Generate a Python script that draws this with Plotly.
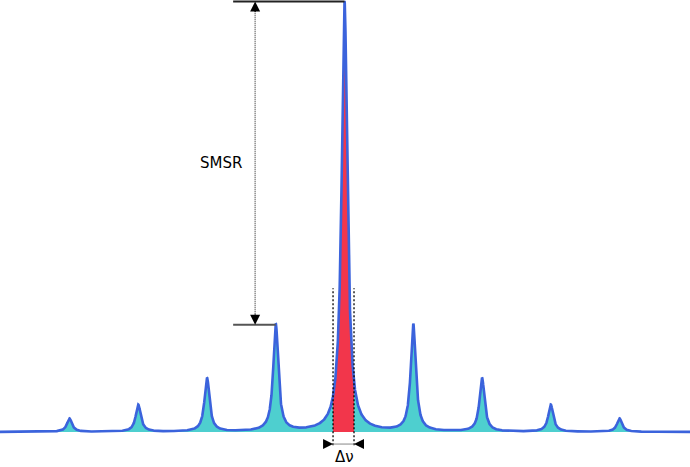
import numpy as np
import plotly.graph_objects as go

# ---- data (mode index units, relative power) ----
mode_index = [-4, -3, -2, -1, 0, 1, 2, 3, 4]
peak_power = [0.031, 0.063, 0.125, 0.249, 1.0, 0.249, 0.125, 0.063, 0.031]
peak_hwhm = [0.044, 0.044, 0.044, 0.044, 0.05, 0.044, 0.044, 0.044, 0.044]
dv_bounds = [-0.167, 0.138]          # linewidth (Δν) markers around main mode
smsr_arrow_x = -1.30                 # position of SMSR arrow
ref_line_start = -1.62               # left end of the reference level lines
dv_arrow_y = -0.028
dv_guide_top = 0.334
x_range = [-5.011, 5.025]
y_range = [-0.0813, 1.0035]

LINE = "#3b63dc"
CYAN = "#4ecfcf"
RED = "#f2364b"

x = np.linspace(x_range[0], x_range[1], 9001)
x = np.union1d(x, np.array(mode_index + dv_bounds, dtype=float))


def spectrum(xv):
    return sum(a / (1.0 + ((xv - m) / g) ** 2)
               for m, a, g in zip(mode_index, peak_power, peak_hwhm))


y = spectrum(x)
mask = (x >= dv_bounds[0]) & (x <= dv_bounds[1])

fig = go.Figure()
fig.add_trace(go.Scatter(x=x, y=y, mode="lines", line=dict(width=0, color=CYAN),
                         fill="tozeroy", fillcolor=CYAN, hoverinfo="skip"))
fig.add_trace(go.Scatter(x=x[mask], y=y[mask], mode="lines", line=dict(width=0, color=RED),
                         fill="tozeroy", fillcolor=RED, hoverinfo="skip"))
fig.add_trace(go.Scatter(x=x, y=y, mode="lines", line=dict(width=2.6, color=LINE),
                         hoverinfo="skip"))

main_h = peak_power[mode_index.index(0)]
side_h = peak_power[mode_index.index(-1)]

shapes = [
    dict(type="line", x0=ref_line_start, x1=0, y0=main_h, y1=main_h,
         line=dict(color="#222222", width=2)),
    dict(type="line", x0=ref_line_start, x1=-1, y0=side_h, y1=side_h,
         line=dict(color="#555555", width=2)),
    dict(type="line", x0=smsr_arrow_x, x1=smsr_arrow_x, y0=side_h + 0.02, y1=main_h - 0.02,
         line=dict(color="#666666", width=1.5, dash="1px,1px")),
    dict(type="line", x0=dv_bounds[0], x1=dv_bounds[0], y0=dv_arrow_y - 0.003, y1=dv_guide_top,
         line=dict(color="#000000", width=1.3, dash="2px,2px")),
    dict(type="line", x0=dv_bounds[1], x1=dv_bounds[1], y0=dv_arrow_y - 0.003, y1=dv_guide_top,
         line=dict(color="#000000", width=1.3, dash="2px,2px")),
    dict(type="line", x0=dv_bounds[0], x1=dv_bounds[1], y0=dv_arrow_y, y1=dv_arrow_y,
         line=dict(color="#888888", width=1)),
]

arrow_common = dict(text="", showarrow=True, arrowhead=2, arrowsize=2, arrowwidth=1,
                    arrowcolor="black", standoff=0, xref="x", yref="y")
annotations = [
    dict(x=smsr_arrow_x, y=main_h, ax=0, ay=12, **arrow_common),
    dict(x=smsr_arrow_x, y=side_h, ax=0, ay=-12, **arrow_common),
    dict(x=dv_bounds[0], y=dv_arrow_y, ax=-9, ay=0, **arrow_common),
    dict(x=dv_bounds[1], y=dv_arrow_y, ax=9, ay=0, **arrow_common),
    dict(x=-1.796, y=0.626, text="SMSR", showarrow=False, xref="x", yref="y",
         font=dict(family="DejaVu Sans", size=15, color="black")),
    dict(x=0, y=-0.057, text="Δν", showarrow=False, xref="x", yref="y",
         font=dict(family="DejaVu Sans", size=15, color="black")),
]

fig.update_layout(
    width=690, height=467, autosize=False,
    margin=dict(l=0, r=0, t=0, b=0),
    paper_bgcolor="white", plot_bgcolor="white",
    showlegend=False,
    xaxis=dict(range=x_range, visible=False, fixedrange=True),
    yaxis=dict(range=y_range, visible=False, fixedrange=True),
    shapes=shapes, annotations=annotations,
)

fig.write_html("out.html", config={"displayModeBar": False},
               post_script="document.body.style.margin='0px';document.body.style.overflow='hidden';")
